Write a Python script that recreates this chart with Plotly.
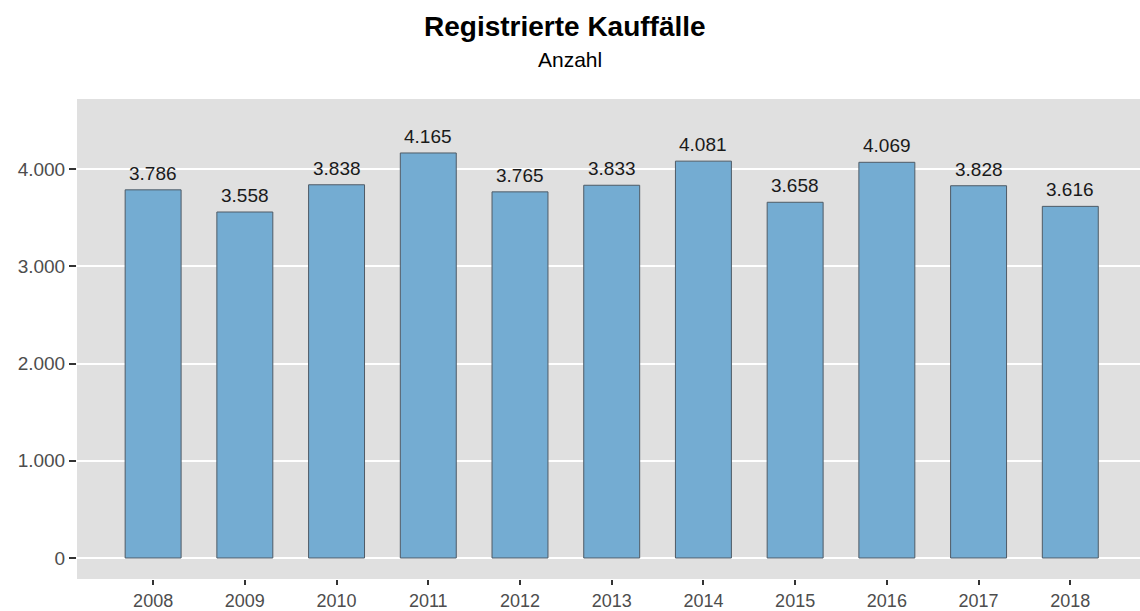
import plotly.graph_objects as go

# data
YEARS = ["2008", "2009", "2010", "2011", "2012", "2013", "2014", "2015", "2016", "2017", "2018"]
KAUFFAELLE = [3786, 3558, 3838, 4165, 3765, 3833, 4081, 3658, 4069, 3828, 3616]
Y_TICKS = [0, 1000, 2000, 3000, 4000]

BAR = "#74acd2"
EDGE = "#4f5b66"
PANEL = "#e0e0e0"
TICK = "#4d4d4d"
FONT = "Liberation Sans, Arial, sans-serif"

W, H = 1140, 611
ML, MR, MT, MB = 77, 0, 99, 32
plot_w, plot_h = W - ML - MR, H - MT - MB

fig = go.Figure(go.Bar(
    x=list(range(len(YEARS))), y=KAUFFAELLE,
    width=0.61,
    marker=dict(color=BAR, line=dict(color=EDGE, width=1)),
    hovertemplate="%{y:,}<extra></extra>",
))

# value labels above the bars
for i, v in enumerate(KAUFFAELLE):
    fig.add_annotation(
        x=i, y=v, text=f"{v:,}".replace(",", "."),
        showarrow=False, yanchor="bottom", yshift=4,
        font=dict(family=FONT, size=19, color="#1a1a1a"),
    )

# title + subtitle, positioned in pixels from top of page
fig.add_annotation(
    text="<b>Registrierte Kauffälle</b>", x=(565 - ML) / plot_w, y=(H - MB - 26) / plot_h,
    xref="paper", yref="paper", showarrow=False, yanchor="middle",
    font=dict(size=28, color="black", family=FONT),
)
fig.add_annotation(
    text="Anzahl", x=(570 - ML) / plot_w, y=(H - MB - 59) / plot_h,
    xref="paper", yref="paper", showarrow=False, yanchor="middle",
    font=dict(size=21, color="black", family=FONT),
)

fig.update_layout(
    width=W, height=H,
    separators=",.",
    paper_bgcolor="white", plot_bgcolor=PANEL,
    font=dict(family=FONT, color=TICK),
    margin=dict(l=ML, r=MR, t=MT, b=MB, autoexpand=False),
    showlegend=False,
)

fig.update_xaxes(
    range=[-0.83, 10.76],
    tickvals=list(range(len(YEARS))), ticktext=YEARS,
    showgrid=False, zeroline=False,
    ticks="outside", ticklen=5, tickcolor="#333333", tickwidth=1.5,
    tickfont=dict(size=18, color=TICK),
)
fig.update_yaxes(
    range=[-216, 4720],
    tickvals=Y_TICKS, tickformat=",d",
    showgrid=True, gridcolor="white", gridwidth=1.5, zeroline=False,
    ticks="outside", ticklen=7, tickcolor="#333333", tickwidth=1.5,
    tickfont=dict(size=19, color=TICK),
)

fig.write_html("out.html", config={"displayModeBar": False},
               post_script="document.body.style.margin='0';")
